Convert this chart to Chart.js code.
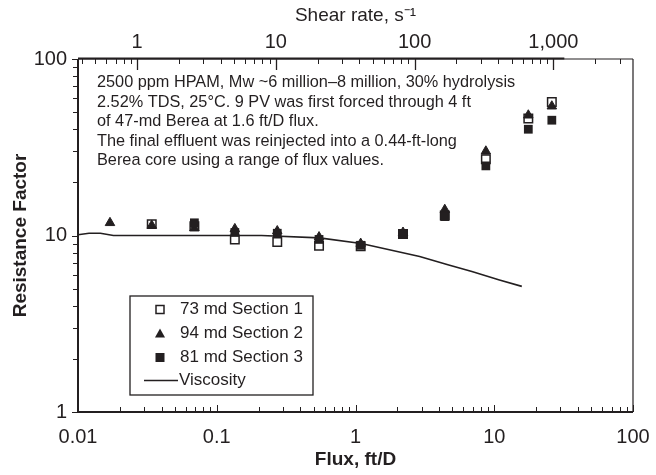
<!DOCTYPE html>
<html>
<head>
<meta charset="utf-8">
<script src="https://cdn.jsdelivr.net/npm/chart.js@4/dist/chart.umd.min.js"></script>
<style>
html, body { margin: 0; padding: 0; background: #fff; }
#wrap { width: 656px; height: 475px; }
</style>
</head>
<body>
<div id="wrap"><canvas id="myChart" width="656" height="475"></canvas></div>
<script>
// flux values (ft/D) where the three core sections were measured
const flux = [0.017, 0.034, 0.069, 0.135, 0.273, 0.546, 1.09, 2.2, 4.4, 8.7, 17.6, 26];
const section1 = [null, 11.6, 11.3, 9.5, 9.2, 8.75, 8.7, 10.2, 13.0, 27, 46, 57];
const section2 = [11.8, 11.4, 11.0, 10.9, 10.6, 9.8, 9.0, 10.4, 14.0, 30, 48, 54];
const section3 = [null, null, 11.8, 10.4, 10.3, 9.5, 8.8, 10.2, 12.8, 24.8, 40, 45];

// viscosity curve
const viscFlux = [0.01, 0.012, 0.0145, 0.018, 0.21, 0.55, 1.1, 2.9, 4.7, 6.9, 10.9, 15.8];
const viscRF = [10.1, 10.3, 10.3, 10.0, 10.0, 9.7, 9.0, 7.6, 6.8, 6.25, 5.6, 5.15];

// axes
const fluxTicks = [0.01, 0.1, 1, 10, 100];
const fluxTickLabels = ['0.01', '0.1', '1', '10', '100'];
const shearTicks = [1, 10, 100, 1000];
const shearTickLabels = ['1', '10', '100', '1,000'];
const rfTicks = [1, 10, 100];
const rfTickLabels = ['1', '10', '100'];
const shearPerFlux = 37.5;

const seriesNames = ['73 md Section 1', '94 md Section 2', '81 md Section 3', 'Viscosity'];
const noteLines = [
    '2500 ppm HPAM, Mw ~6 million\u20138 million, 30% hydrolysis',
    '2.52% TDS, 25\u00B0C. 9 PV was first forced through 4 ft',
    'of 47-md Berea at 1.6 ft/D flux.',
    'The final effluent was reinjected into a 0.44-ft-long',
    'Berea core using a range of flux values.'
];

const ink = '#231f20';
const fam = '"Liberation Sans", Arial, sans-serif';

function pts(xs, ys) {
    return xs.map((x, i) => ({ x: x, y: ys[i] })).filter(p => p.y !== null);
}

function labelFor(v, ticks, labels) {
    for (let i = 0; i < ticks.length; i++) {
        if (Math.abs(Math.log10(v) - Math.log10(ticks[i])) < 1e-6) return labels[i];
    }
    return '';
}

function logValues(min, max) {
    const out = [];
    for (let e = Math.floor(Math.log10(min)) - 1; e <= Math.ceil(Math.log10(max)); e++) {
        for (let k = 1; k <= 9; k++) {
            const v = k * Math.pow(10, e);
            if (v >= min * 0.9999 && v <= max * 1.0001) out.push({ v: v, major: k === 1 });
        }
    }
    return out;
}

const framePlugin = {
    id: 'frame',
    afterDraw(chart) {
        const ctx = chart.ctx;
        const a = chart.chartArea;
        const sx = chart.scales.x, sx2 = chart.scales.x2, sy = chart.scales.y;
        ctx.save();
        ctx.strokeStyle = ink;
        ctx.lineCap = 'butt';

        // box
        ctx.lineWidth = 1.2;
        ctx.beginPath();
        ctx.moveTo(a.right, a.top);
        ctx.lineTo(a.right, a.bottom);
        ctx.stroke();
        ctx.lineWidth = 2;
        ctx.beginPath();
        ctx.moveTo(a.left, a.top);
        ctx.lineTo(a.left, a.bottom);
        ctx.lineTo(a.right, a.bottom);
        ctx.stroke();
        ctx.lineWidth = 1.2;
        ctx.beginPath();
        ctx.moveTo(a.left, a.top);
        ctx.lineTo(a.right, a.top);
        ctx.stroke();
        ctx.lineWidth = 2.2;
        ctx.beginPath();
        ctx.moveTo(a.left, a.top - 0.5);
        ctx.lineTo(sx2.getPixelForValue(1200), a.top - 0.5);
        ctx.stroke();

        // bottom ticks (inward)
        ctx.lineWidth = 1;
        logValues(sx.min, sx.max).forEach(t => {
            const px = Math.round(sx.getPixelForValue(t.v)) + 0.5;
            ctx.beginPath();
            ctx.moveTo(px, a.bottom);
            ctx.lineTo(px, a.bottom - (t.major ? 7 : 5));
            ctx.stroke();
        });
        // top ticks (inward)
        logValues(sx2.min, sx2.max).forEach(t => {
            const px = Math.round(sx2.getPixelForValue(t.v)) + 0.5;
            ctx.lineWidth = t.major ? 1.3 : 1;
            ctx.beginPath();
            ctx.moveTo(px, a.top);
            ctx.lineTo(px, a.top + (t.major ? 11 : 5));
            ctx.stroke();
        });
        // left ticks (outward)
        ctx.lineWidth = 1;
        logValues(sy.min, sy.max).forEach(t => {
            const py = Math.round(sy.getPixelForValue(t.v)) + 0.5;
            ctx.beginPath();
            ctx.moveTo(a.left, py);
            ctx.lineTo(a.left - (t.major ? 6 : 5), py);
            ctx.stroke();
        });

        // note text
        ctx.fillStyle = ink;
        ctx.font = '16.3px ' + fam;
        ctx.textBaseline = 'middle';
        ctx.textAlign = 'left';
        noteLines.forEach((s, i) => ctx.fillText(s, 97, 83 + i * 19.5));

        // legend
        const lx = 130, ly = 296, lw = 183, lh = 99;
        ctx.fillStyle = '#fff';
        ctx.fillRect(lx, ly, lw, lh);
        ctx.lineWidth = 1.3;
        ctx.strokeRect(lx, ly, lw, lh);
        const rows = [309.5, 333.5, 357.5, 380.5];
        const mx = 160;
        ctx.lineWidth = 1.5;
        ctx.fillStyle = '#fff';
        ctx.fillRect(mx - 4, rows[0] - 4, 8, 8);
        ctx.strokeRect(mx - 4, rows[0] - 4, 8, 8);
        ctx.fillStyle = ink;
        ctx.beginPath();
        ctx.moveTo(mx, rows[1] - 5);
        ctx.lineTo(mx + 5, rows[1] + 4);
        ctx.lineTo(mx - 5, rows[1] + 4);
        ctx.closePath();
        ctx.fill();
        ctx.fillRect(mx - 4.5, rows[2] - 4.5, 9, 9);
        ctx.lineWidth = 1.5;
        ctx.beginPath();
        ctx.moveTo(144, rows[3]);
        ctx.lineTo(178, rows[3]);
        ctx.stroke();
        ctx.font = '17px ' + fam;
        seriesNames.forEach((s, i) => ctx.fillText(s, i === 3 ? 179 : 180, rows[i]));
        ctx.restore();
    }
};

function fixHorizontal(height) {
    return (s) => {
        s.height = height;
        s.paddingLeft = 0;
        s.paddingRight = 0;
    };
}

const ctx = document.getElementById('myChart');
const myChart = new Chart(ctx, {
    type: 'line',
    data: {
        datasets: [
            {
                label: seriesNames[0],
                data: pts(flux, section1),
                showLine: false,
                pointStyle: 'rect',
                pointRadius: 6,
                backgroundColor: '#fff',
                borderColor: ink,
                borderWidth: 1.5,
                order: 3
            },
            {
                label: seriesNames[1],
                data: pts(flux, section2),
                showLine: false,
                pointStyle: 'triangle',
                pointRadius: 5.5,
                backgroundColor: ink,
                borderColor: ink,
                borderWidth: 1,
                order: 2
            },
            {
                label: seriesNames[2],
                data: pts(flux, section3),
                showLine: false,
                pointStyle: 'rect',
                pointRadius: 6.2,
                backgroundColor: ink,
                borderColor: ink,
                borderWidth: 0,
                order: 1
            },
            {
                label: seriesNames[3],
                data: pts(viscFlux, viscRF),
                borderColor: ink,
                borderWidth: 1.6,
                pointRadius: 0,
                tension: 0,
                fill: false,
                order: 4
            }
        ]
    },
    options: {
        responsive: false,
        animation: false,
        devicePixelRatio: 1,
        layout: { padding: { left: 0, right: 23, top: 0, bottom: 0 } },
        plugins: { legend: { display: false }, tooltip: { enabled: false } },
        scales: {
            x: {
                type: 'logarithmic',
                position: 'bottom',
                min: 0.01,
                max: 100,
                grid: { display: false, drawTicks: false },
                border: { display: false },
                ticks: {
                    autoSkip: false, maxRotation: 0, padding: 13, color: ink,
                    font: { family: fam, size: 20 },
                    callback: (v) => labelFor(v, fluxTicks, fluxTickLabels)
                },
                title: {
                    display: true, text: 'Flux, ft/D', color: ink,
                    font: { family: fam, size: 19, weight: 'bold' },
                    padding: { top: 0, bottom: 4 }
                },
                afterFit: fixHorizontal(63)
            },
            x2: {
                type: 'logarithmic',
                position: 'top',
                min: 0.01 * shearPerFlux,
                max: 100 * shearPerFlux,
                grid: { display: false, drawTicks: false },
                border: { display: false },
                ticks: {
                    autoSkip: false, maxRotation: 0, padding: 5, color: ink,
                    font: { family: fam, size: 20 },
                    callback: (v) => labelFor(v, shearTicks, shearTickLabels)
                },
                title: {
                    display: true, text: 'Shear rate, s\u207B\u00B9', color: ink,
                    font: { family: fam, size: 19 },
                    padding: { top: 4, bottom: 0 }
                },
                afterFit: fixHorizontal(59)
            },
            y: {
                type: 'logarithmic',
                position: 'left',
                min: 1,
                max: 100,
                grid: { display: false, drawTicks: false },
                border: { display: false },
                ticks: {
                    autoSkip: false, padding: 11, color: ink,
                    font: { family: fam, size: 20 },
                    callback: (v) => labelFor(v, rfTicks, rfTickLabels)
                },
                title: {
                    display: true, text: 'Resistance Factor', color: ink,
                    font: { family: fam, size: 19, weight: 'bold' },
                    padding: { top: 9, bottom: 0 }
                },
                afterFit: (s) => { s.width = 78; s.paddingTop = 0; s.paddingBottom = 0; }
            }
        }
    },
    plugins: [framePlugin]
});
</script>
</body>
</html>
